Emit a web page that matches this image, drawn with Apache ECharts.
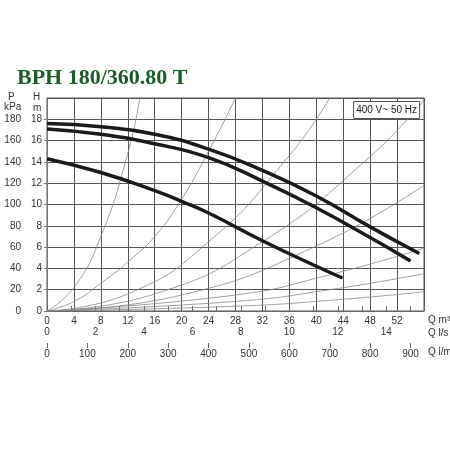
<!DOCTYPE html>
<html><head><meta charset="utf-8">
<script src="https://cdn.jsdelivr.net/npm/echarts@6/dist/echarts.min.js"></script>
<style>html,body{margin:0;background:#fff}#c{width:450px;height:450px}</style>
</head><body><div id="c"></div>
<script>
// pump curves, Q in m3/h, H in m
const pumpMax = [[0,17.6],[8,17.3],[16,16.6],[24,15.2],[32,13.2],[40,10.8],[48,7.9],[55.3,5.4]];
const pumpMid = [[0,17.1],[8,16.6],[16,15.7],[24,14.4],[32,12.2],[40,9.7],[48,6.9],[54,4.7]];
const pumpMin = [[0,14.3],[8,13.0],[16,11.3],[20,10.3],[24,9.2],[32,6.6],[40,4.2],[43.9,3.1]];
// system curves
const sys1 = [[0,0],[4,2.2],[8,7],[12,14.8],[13.8,20]];
const sys2 = [[0,0],[4,0.9],[8,2.6],[12,4.6],[16,7],[20,10.5],[24,15],[28,20]];
const sys3 = [[0,0],[12,1.6],[24,6.5],[36,14.6],[42,20]];
const sys4 = [[0,0],[16,1.6],[32,6.5],[48,14.5],[56,19.8]];
const sys5 = [[0,0],[20,1.5],[40,6.1],[56,11.8]];
const sys6 = [[0,0],[28,1.5],[42,3.4],[56,5.9]];
const sys7 = [[0,0],[28,0.9],[42,2.0],[56,3.5]];
const sys8 = [[0,0],[28,0.45],[42,1.0],[56,1.8]];

const chart = echarts.init(document.getElementById('c'));
const txt = { color: '#333', fontSize: 10, fontFamily: 'Liberation Sans' };
const thin = s => ({ type: 'line', data: s, smooth: true, showSymbol: false, xAxisIndex: 0, yAxisIndex: 0,
  lineStyle: { color: '#888', width: 0.8 }, silent: true });
const thick = s => ({ type: 'line', data: s, smooth: true, showSymbol: false, xAxisIndex: 0, yAxisIndex: 0,
  lineStyle: { color: '#1a1a1a', width: 3.5 } });
const label = (x, y, t, align) => ({ type: 'text', left: x, top: y,
  style: { text: t, fill: '#333', font: '10px "Liberation Sans"', textAlign: align || 'left' } });

chart.setOption({
  animation: false,
  title: [{
    text: 'BPH 180/360.80 T', left: 12, top: 62,
    textStyle: { color: '#1d5c2a', fontSize: 22, fontWeight: 'bold', fontFamily: 'Liberation Sans Narrow' }
  }, {
    text: '400 V~ 50 Hz', right: 30, top: 101, padding: [4, 3],
    borderColor: '#555', borderWidth: 1, backgroundColor: '#fff',
    textStyle: { fontSize: 10, fontWeight: 'normal', color: '#222', fontFamily: 'Liberation Sans' }
  }],
  graphic: [
    label(8, 92, 'P'), label(4, 102, 'kPa'),
    label(33, 92, 'H'), label(33, 103, 'm'),
    label(428, 315, 'Q m³/h'), label(428, 328, 'Q l/s'), label(428, 347, 'Q l/min')
  ],
  grid: { left: 47, right: 26, top: 98, bottom: 139, show: true, borderColor: '#555', borderWidth: 1 },
  xAxis: [{
    type: 'value', min: 0, max: 56, interval: 4,
    axisLine: { show: false }, axisTick: { show: false },
    axisLabel: Object.assign({}, txt, { showMaxLabel: false, margin: 5 }),
    splitLine: { lineStyle: { color: '#555', width: 1 } }
  }, {
    type: 'value', min: 0, max: 56 / 3.6, interval: 2, position: 'bottom', offset: 32,
    axisLine: { lineStyle: { color: '#666' } },
    axisTick: { inside: true, length: 5, lineStyle: { color: '#666' } },
    minorTick: { show: true, splitNumber: 2, length: 5, lineStyle: { color: '#666' } },
    axisLabel: Object.assign({}, txt, { inside: true, margin: 6, showMaxLabel: false }),
    splitLine: { show: false }
  }, {
    type: 'value', min: 0, max: 56 / 0.06, interval: 100, position: 'bottom', offset: 32,
    axisLine: { show: false },
    axisTick: { length: 5, lineStyle: { color: '#666' } },
    axisLabel: Object.assign({}, txt, { margin: 6, showMaxLabel: false }),
    splitLine: { show: false }
  }],
  yAxis: [{
    type: 'value', min: 0, max: 20, interval: 2,
    axisLine: { show: false }, axisTick: { show: false },
    axisLabel: Object.assign({}, txt, { showMaxLabel: false, margin: 5 }),
    splitLine: { lineStyle: { color: '#555', width: 1 } }
  }, {
    type: 'value', min: 0, max: 200, interval: 20, position: 'left', offset: 22,
    axisLine: { show: true, lineStyle: { color: '#777' } },
    axisTick: { show: true, length: 3, lineStyle: { color: '#777' } },
    axisLabel: Object.assign({}, txt, { showMaxLabel: false, margin: 4 }),
    splitLine: { show: false }
  }],
  series: [
    thin(sys1), thin(sys2), thin(sys3), thin(sys4), thin(sys5), thin(sys6), thin(sys7), thin(sys8),
    thick(pumpMax), thick(pumpMid), thick(pumpMin),
    { type: 'line', data: [], xAxisIndex: 1, yAxisIndex: 1 },
    { type: 'line', data: [], xAxisIndex: 2, yAxisIndex: 1 }
  ]
});
</script>
</body></html>
